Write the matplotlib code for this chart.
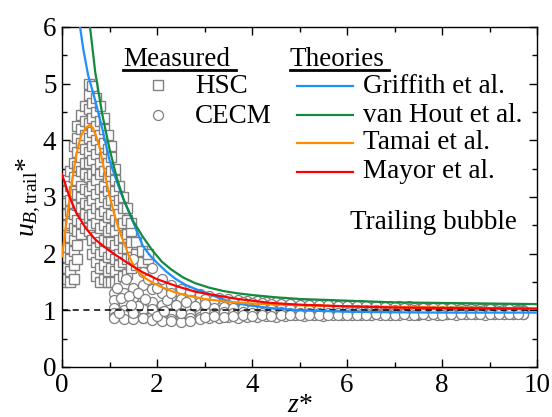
import matplotlib
matplotlib.use("Agg")
import matplotlib.pyplot as plt
from matplotlib.ticker import MultipleLocator

plt.rcParams["font.family"] = "Liberation Serif"
plt.rcParams["mathtext.fontset"] = "custom"
plt.rcParams["mathtext.rm"] = "Liberation Serif"
plt.rcParams["mathtext.it"] = "Liberation Serif:italic"

# measured, HSC (squares): one z per column, u values in that column
hsc_z = [0.03, 0.1, 0.17, 0.25, 0.32, 0.4, 0.48, 0.56, 0.64, 0.72, 0.8,
         0.88, 0.96, 1.04, 1.12, 1.2, 1.28, 1.36, 1.45, 1.55, 1.68, 1.82]
hsc_u = [
    [1.5, 1.68, 1.85, 2.05, 2.2, 2.4, 2.6, 2.78, 2.95, 3.15],
    [1.55, 1.75, 1.95, 2.12, 2.35, 2.5, 2.7, 2.9, 3.1, 3.3],
    [1.5, 1.7, 1.9, 2.1, 2.3, 2.55, 2.75, 2.95, 3.2, 3.45],
    [1.55, 1.8, 2.05, 2.25, 2.45, 2.7, 2.9, 3.1, 3.35, 3.6, 3.9],
    [1.9, 2.15, 2.4, 2.6, 2.85, 3.05, 3.3, 3.55, 3.8, 4.05, 4.25],
    [2.35, 2.55, 2.8, 3.0, 3.2, 3.45, 3.7, 3.95, 4.2, 4.45],
    [2.45, 2.7, 2.9, 3.15, 3.4, 3.6, 3.85, 4.1, 4.35, 4.6],
    [2.4, 2.65, 2.85, 3.1, 3.35, 3.6, 3.8, 4.05, 4.3, 4.55, 4.8, 5.0],
    [2.0, 2.25, 2.5, 2.7, 2.95, 3.2, 3.4, 3.65, 3.9, 4.15, 4.4, 4.65, 4.95],
    [1.6, 1.85, 2.1, 2.3, 2.55, 2.8, 3.05, 3.3, 3.5, 3.75, 4.0, 4.25, 4.5, 4.75],
    [1.5, 1.75, 2.0, 2.2, 2.45, 2.7, 2.9, 3.15, 3.4, 3.6, 3.85, 4.1, 4.35, 4.6],
    [1.55, 1.8, 2.05, 2.25, 2.5, 2.75, 3.0, 3.2, 3.45, 3.7, 3.95, 4.2, 4.4],
    [1.5, 1.7, 1.95, 2.2, 2.4, 2.65, 2.9, 3.1, 3.35, 3.6, 3.85, 4.1],
    [1.5, 1.75, 2.0, 2.2, 2.45, 2.7, 2.95, 3.2, 3.45, 3.7, 3.9],
    [1.5, 1.7, 1.9, 2.15, 2.4, 2.6, 2.85, 3.1, 3.3, 3.5],
    [1.55, 1.8, 2.0, 2.25, 2.5, 2.7, 2.95, 3.2],
    [1.6, 1.85, 2.1, 2.3, 2.55, 2.8, 3.0],
    [1.65, 1.9, 2.1, 2.35, 2.6, 2.8],
    [1.75, 1.95, 2.2, 2.4, 2.55],
    [1.8, 2.0, 2.2],
    [1.85, 2.05],
    [1.9, 2.0],
]

# measured, CECM (circles): bubble tracks sampled on a common z list
cecm_z = [1.1, 1.3, 1.5, 1.7, 1.9, 2.1, 2.3, 2.5, 2.7, 2.9, 3.1, 3.3, 3.5,
          3.7, 3.9, 4.1, 4.3, 4.5, 4.7, 4.9, 5.1, 5.3, 5.5, 5.7, 5.9, 6.1,
          6.3, 6.5, 6.7, 6.9, 7.1, 7.3, 7.5, 7.7, 7.9, 8.1, 8.3, 8.5, 8.7,
          8.9, 9.1, 9.3, 9.5, 9.7]
cecm_u = [
    [1.3, 1.45, 1.9, 1.68, 1.75, 1.55, 1.45, 1.38, 1.32, 1.28, 1.25, 1.22,
     1.2, 1.18, 1.17, 1.16, 1.15, 1.14, 1.14, 1.13, 1.12, 1.12, 1.11, 1.1,
     1.1, 1.09, 1.09, 1.08, 1.08, 1.07, 1.07, 1.07, 1.06, 1.06, 1.05, 1.05,
     1.05, 1.04, 1.04, 1.03, 1.03, 1.02, 1.02, 1.01],
    [1.18, 1.3, 1.4, 1.45, 1.38, 1.3, 1.25, 1.2, 1.18, 1.15, 1.13, 1.12,
     1.1, 1.1, 1.09, 1.08, 1.08, 1.07, 1.07, 1.06, 1.06, 1.05, 1.05, 1.04,
     1.05, 1.04, 1.03, 1.04, 1.03, 1.03, 1.02, 1.03, 1.02, 1.02, 1.01, 1.02,
     1.01, 1.01, 1.0, 1.01, 1.0, 1.0, 0.99, 0.99],
    [1.05, 1.12, 1.22, 1.2, 1.15, 1.1, 1.08, 1.05, 1.03, 1.02, 1.03, 1.01,
     1.0, 1.01, 1.0, 0.99, 1.0, 0.99, 0.98, 0.99, 0.98, 0.99, 0.98, 0.98,
     0.99, 0.98, 0.97, 0.98, 0.97, 0.98, 0.97, 0.97, 0.98, 0.97, 0.96, 0.97,
     0.97, 0.96, 0.97, 0.96, 0.96, 0.97, 0.96, 0.96],
    [0.95, 1.0, 1.05, 1.02, 0.98, 0.97, 0.95, 0.93, 0.94, 0.95, 0.93, 0.94,
     0.95, 0.93, 0.94, 0.95, 0.94, 0.93, 0.94, 0.95, 0.94, 0.93, 0.94, 0.95,
     0.94, 0.93, 0.94, 0.95, 0.94, 0.93, 0.94, 0.95, 0.94, 0.94, 0.93, 0.94,
     0.95, 0.94, 0.93, 0.94, 0.94, 0.93, 0.94, 0.94],
    [0.88, 0.92, 0.9, 0.87, 0.9, 0.86, 0.85, 0.84, 0.87, 0.88, 0.9, 0.89,
     0.9, 0.91, 0.9, 0.92, 0.91, 0.92, 0.91, 0.92, 0.92, 0.91, 0.92, 0.93,
     0.92, 0.92, 0.93, 0.92, 0.93, 0.92, 0.93, 0.93, 0.92, 0.93, 0.93, 0.94,
     0.93, 0.93, 0.94, 0.93, 0.94, 0.94, 0.93, 0.94],
    [0.86, 0.85, 0.84, 0.86, 0.83, 0.82, 0.81, 0.8, 0.82, 0.84, 0.86, 0.87,
     0.88, 0.87, 0.88, 0.89, 0.9, 0.89, 0.9, 0.91, 0.9, 0.91, 0.9, 0.91,
     0.92, 0.91, 0.92, 0.91, 0.92, 0.92, 0.91, 0.92, 0.93, 0.92, 0.92, 0.93,
     0.92, 0.93, 0.93, 0.92, 0.93, 0.93, 0.94, 0.93],
]
# more CECM tracks in the far wake, sampled between the ones above
cecm_z2 = [3.0, 3.2, 3.4, 3.6, 3.8, 4.0, 4.2, 4.4, 4.6, 4.8, 5.0, 5.2, 5.4,
           5.6, 5.8, 6.0, 6.2, 6.4, 6.6, 6.8, 7.0, 7.2, 7.4, 7.6, 7.8, 8.0,
           8.2, 8.4, 8.6, 8.8, 9.0, 9.2, 9.4, 9.6]
cecm_u2 = [
    [1.2, 1.18, 1.17, 1.15, 1.14, 1.13, 1.13, 1.12, 1.11, 1.11, 1.1, 1.1,
     1.09, 1.09, 1.08, 1.08, 1.07, 1.07, 1.07, 1.06, 1.06, 1.05, 1.05, 1.05,
     1.04, 1.04, 1.04, 1.03, 1.03, 1.03, 1.02, 1.02, 1.02, 1.01],
    [1.06, 1.05, 1.06, 1.04, 1.05, 1.03, 1.04, 1.03, 1.02, 1.03, 1.02, 1.01,
     1.02, 1.01, 1.0, 1.01, 1.0, 1.01, 1.0, 0.99, 1.0, 0.99, 1.0, 0.99,
     0.98, 0.99, 0.98, 0.99, 0.98, 0.98, 0.97, 0.98, 0.97, 0.98],
    [0.97, 0.96, 0.97, 0.96, 0.97, 0.96, 0.95, 0.96, 0.97, 0.96, 0.95, 0.96,
     0.96, 0.95, 0.96, 0.95, 0.96, 0.96, 0.95, 0.96, 0.95, 0.96, 0.95, 0.95,
     0.96, 0.95, 0.95, 0.96, 0.95, 0.95, 0.96, 0.95, 0.95, 0.95],
    [0.88, 0.9, 0.89, 0.9, 0.91, 0.9, 0.91, 0.9, 0.91, 0.92, 0.91, 0.92,
     0.91, 0.92, 0.92, 0.91, 0.92, 0.92, 0.93, 0.92, 0.92, 0.93, 0.92, 0.93,
     0.93, 0.92, 0.93, 0.93, 0.94, 0.93, 0.93, 0.94, 0.93, 0.94],
]
# extra CECM bubbles scattered in the near-wake blob
cecm_extra_z = [1.15, 1.25, 1.35, 1.4, 1.6, 1.8, 2.0, 2.2, 1.6, 1.9, 2.4,
                2.6, 2.8, 3.0, 1.5, 2.0, 2.5, 1.2, 1.75, 2.3, 1.45, 2.15]
cecm_extra_u = [1.4, 1.22, 1.55, 1.25, 1.3, 1.55, 1.4, 1.18, 1.08, 1.02, 1.1,
                1.15, 1.08, 1.12, 0.95, 0.9, 0.95, 0.95, 1.2, 1.3, 1.1, 0.98]

# theories
griff_z = [0.38, 0.45, 0.55, 0.7, 0.85, 1.0, 1.1, 1.25, 1.4, 1.55, 1.7, 1.85,
           2.0, 2.2, 2.4, 2.6, 2.8, 3.0, 3.3, 3.6, 3.9, 4.4, 5.0, 6, 7, 8, 9, 10]
griff_u = [6.0, 5.6, 5.15, 4.7, 4.2, 3.65, 3.4, 3.05, 2.75, 2.45, 2.14, 1.97,
           1.84, 1.68, 1.55, 1.45, 1.38, 1.32, 1.22, 1.14, 1.09, 1.04, 1.0,
           0.975, 0.965, 0.96, 0.96, 0.96]
hout_z = [0.59, 0.7, 0.85, 1.0, 1.15, 1.3, 1.5, 1.7, 1.9, 2.1, 2.3, 2.55,
          2.8, 3.1, 3.4, 3.7, 4.0, 4.5, 5, 6, 7, 8, 9, 10]
hout_u = [6.0, 5.2, 4.45, 3.85, 3.35, 2.95, 2.57, 2.3, 2.06, 1.86, 1.72, 1.58,
          1.48, 1.4, 1.34, 1.3, 1.27, 1.23, 1.2, 1.17, 1.14, 1.13, 1.12, 1.11]
tamai_z = [0.0, 0.05, 0.1, 0.15, 0.2, 0.3, 0.4, 0.5, 0.58, 0.65, 0.72, 0.8,
           0.9, 1.0, 1.1, 1.2, 1.3, 1.4, 1.5, 1.6, 1.75, 1.9, 2.1, 2.4, 2.7,
           3.0, 3.5, 4.0, 5, 6, 7, 8, 9, 10]
tamai_u = [1.95, 2.28, 2.6, 2.92, 3.22, 3.75, 4.08, 4.22, 4.27, 4.22, 4.07,
           3.85, 3.42, 3.02, 2.7, 2.42, 2.2, 1.98, 1.8, 1.68, 1.57, 1.49, 1.41,
           1.31, 1.25, 1.2, 1.15, 1.12, 1.09, 1.07, 1.06, 1.05, 1.04, 1.03]
mayor_z = [0, 0.15, 0.3, 0.5, 0.7, 1.0, 1.3, 1.45, 1.7, 2.0, 2.4, 2.8, 3.2,
           3.7, 4.4, 5, 6, 7, 8, 9, 10]
mayor_u = [3.4, 3.02, 2.72, 2.45, 2.25, 2.05, 1.88, 1.8, 1.67, 1.55, 1.43,
           1.33, 1.27, 1.2, 1.13, 1.1, 1.07, 1.05, 1.04, 1.035, 1.03]

c_blue = "#1e8fff"
c_green = "#138a3e"
c_orange = "#ff8c00"
c_red = "#ff0000"
c_gray = "#808080"

fig = plt.figure(figsize=(5.52, 4.17), dpi=100)
ax = fig.add_axes([62 / 552, 50 / 417, 475 / 552, 340 / 417])

sq_z, sq_u = [], []
for z, col in zip(hsc_z, hsc_u):
    sq_z += [z] * len(col)
    sq_u += col
ax.plot(sq_z, sq_u, ls="none", marker="s", ms=7.2, mfc="white", mec=c_gray,
        mew=1.0, zorder=2)

ci_z, ci_u = [], []
for track in cecm_u:
    ci_z += cecm_z
    ci_u += track
for track in cecm_u2:
    ci_z += cecm_z2
    ci_u += track
ci_z += cecm_extra_z
ci_u += cecm_extra_u
ax.plot(ci_z, ci_u, ls="none", marker="o", ms=7.2, mfc="white", mec=c_gray,
        mew=0.9, zorder=2)

ax.plot([0, 10], [1, 1], ls=(0, (4, 3)), color="k", lw=1.1, zorder=3)

ax.plot(griff_z, griff_u, color=c_blue, lw=1.6, zorder=4)
ax.plot(hout_z, hout_u, color=c_green, lw=1.6, zorder=4)
ax.plot(tamai_z, tamai_u, color=c_orange, lw=1.6, zorder=4)
ax.plot(mayor_z, mayor_u, color=c_red, lw=1.6, zorder=4)

ax.set_xlim(0, 10)
ax.set_ylim(0, 6)
ax.xaxis.set_major_locator(MultipleLocator(2))
ax.xaxis.set_minor_locator(MultipleLocator(1))
ax.yaxis.set_major_locator(MultipleLocator(1))
ax.yaxis.set_minor_locator(MultipleLocator(0.5))
ax.tick_params(which="both", direction="in", top=True, right=True,
               labelsize=19.5, width=1.0, pad=4)
ax.tick_params(which="major", length=6)
ax.tick_params(which="minor", length=3.5)
for s in ax.spines.values():
    s.set_linewidth(1.0)

ax.set_xlabel(r"$z$*", fontsize=20, labelpad=-3)
ax.set_ylabel(r"$u_{B,\mathrm{trail}}$*", fontsize=20, labelpad=0)

# legend, drawn by hand to get the underlined column titles
fs = 19.5
tr = ax.transAxes
ax.text(0.128, 0.885, "Measured", transform=tr, fontsize=fs, va="baseline")
ax.plot([0.128, 0.366], [0.874, 0.874], transform=tr, color="k", lw=2,
        clip_on=False)
ax.plot([0.202], [0.829], transform=tr, ls="none", marker="s", ms=7.2,
        mfc="white", mec=c_gray, mew=1.0)
ax.text(0.28, 0.824, "HSC", transform=tr, fontsize=fs, va="center")
ax.plot([0.202], [0.741], transform=tr, ls="none", marker="o", ms=7.2,
        mfc="white", mec=c_gray, mew=0.9)
ax.text(0.28, 0.738, "CECM", transform=tr, fontsize=fs, va="center")

ax.text(0.48, 0.885, "Theories", transform=tr, fontsize=fs, va="baseline")
ax.plot([0.48, 0.689], [0.874, 0.874], transform=tr, color="k", lw=2,
        clip_on=False)
names = ["Griffith et al.", "van Hout et al.", "Tamai et al.", "Mayor et al."]
colors = [c_blue, c_green, c_orange, c_red]
ys = [0.826, 0.741, 0.659, 0.574]
for name, c, y in zip(names, colors, ys):
    ax.plot([0.495, 0.613], [y, y], transform=tr, color=c, lw=1.6)
    ax.text(0.634, y, name, transform=tr, fontsize=fs, va="center")

ax.text(0.958, 0.426, "Trailing bubble", transform=tr, fontsize=fs,
        ha="right", va="center")

fig.savefig("out.png", dpi=100)
